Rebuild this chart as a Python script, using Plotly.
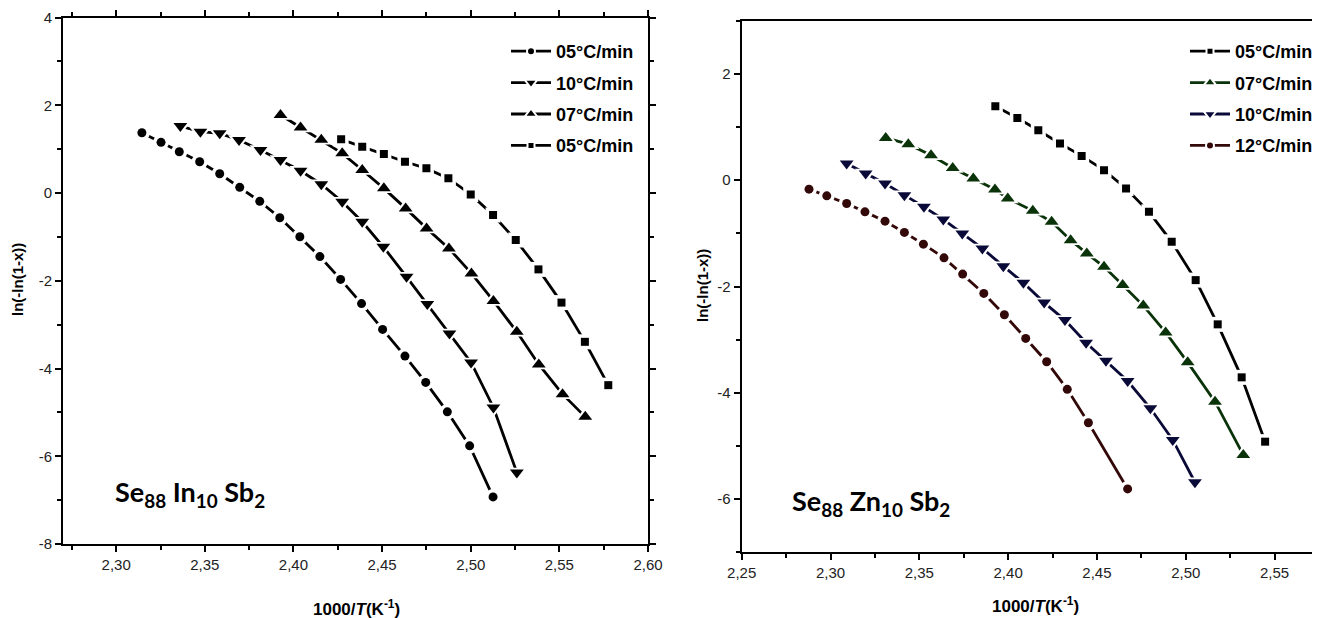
import plotly.graph_objects as go

# ---------------- Left panel: Se88 In10 Sb2 ----------------
L1_name = "05°C/min"
L1_x = [2.3145, 2.3253, 2.3356, 2.3471, 2.3584, 2.3697, 2.3810, 2.3923, 2.4036, 2.4149,
        2.4266, 2.4384, 2.4503, 2.4629, 2.4746, 2.4868, 2.4994, 2.5126]
L1_y = [1.375, 1.156, 0.942, 0.714, 0.440, 0.130, -0.189, -0.563, -0.997, -1.448,
        -1.968, -2.520, -3.108, -3.717, -4.317, -4.987, -5.763, -6.926]

L2_name = "10°C/min"
L2_x = [2.3362, 2.3475, 2.3584, 2.3693, 2.3814, 2.3927, 2.4040, 2.4157, 2.4275, 2.4388,
        2.4507, 2.4638, 2.4755, 2.4880, 2.5002, 2.5128, 2.5260]
L2_y = [1.528, 1.398, 1.361, 1.209, 0.980, 0.752, 0.509, 0.201, -0.198, -0.654,
        -1.225, -1.909, -2.531, -3.200, -3.861, -4.887, -6.369]

L3_name = "07°C/min"
L3_x = [2.3927, 2.4040, 2.4157, 2.4275, 2.4388, 2.4510, 2.4633, 2.4751, 2.4877, 2.5004,
        2.5128, 2.5260, 2.5384, 2.5518, 2.5646]
L3_y = [1.779, 1.494, 1.218, 0.905, 0.525, 0.107, -0.349, -0.805, -1.261, -1.831,
        -2.458, -3.163, -3.907, -4.584, -5.102]

L4_name = "05°C/min"
L4_x = [2.4269, 2.4388, 2.4510, 2.4629, 2.4750, 2.4874, 2.5000, 2.5126, 2.5254, 2.5382,
        2.5512, 2.5644, 2.5776]
L4_y = [1.225, 1.056, 0.889, 0.714, 0.563, 0.335, -0.030, -0.502, -1.072, -1.740,
        -2.497, -3.391, -4.379]

# ---------------- Right panel: Se88 Zn10 Sb2 ----------------
R1_name = "05°C/min"
R1_x = [2.3928, 2.4052, 2.4170, 2.4292, 2.4414, 2.4540, 2.4664, 2.4793, 2.4921, 2.5056,
        2.5180, 2.5315, 2.5447]
R1_y = [1.391, 1.171, 0.940, 0.690, 0.457, 0.188, -0.156, -0.596, -1.160, -1.880,
        -2.712, -3.709, -4.919]

R2_name = "07°C/min"
R2_x = [2.3311, 2.3438, 2.3566, 2.3688, 2.3804, 2.3926, 2.3998, 2.4139, 2.4245, 2.4352,
        2.4443, 2.4540, 2.4645, 2.4761, 2.4887, 2.5011, 2.5165, 2.5324]
R2_y = [0.795, 0.677, 0.470, 0.231, 0.032, -0.173, -0.344, -0.577, -0.784, -1.128,
        -1.378, -1.630, -1.974, -2.359, -2.863, -3.427, -4.167, -5.169]

R3_name = "10°C/min"
R3_x = [2.3091, 2.3198, 2.3307, 2.3416, 2.3526, 2.3635, 2.3742, 2.3855, 2.3973, 2.4086,
        2.4203, 2.4320, 2.4439, 2.4551, 2.4673, 2.4801, 2.4927, 2.5052]
R3_y = [0.314, 0.126, -0.062, -0.282, -0.502, -0.739, -1.002, -1.284, -1.617, -1.930,
        -2.303, -2.632, -3.058, -3.397, -3.778, -4.291, -4.887, -5.682]

R4_name = "12°C/min"
R4_x = [2.2879, 2.2979, 2.3091, 2.3194, 2.3307, 2.3416, 2.3523, 2.3639, 2.3744, 2.3863,
        2.3979, 2.4099, 2.4217, 2.4333, 2.4452, 2.4673]
R4_y = [-0.169, -0.295, -0.438, -0.596, -0.771, -0.983, -1.203, -1.461, -1.767, -2.130,
        -2.532, -2.976, -3.415, -3.934, -4.562, -5.808]

# tick labels (hyphen minus as in the reference)
L_ytickvals = [-8, -6, -4, -2, 0, 2, 4]
L_yticktext = ["-8", "-6", "-4", "-2", "0", "2", "4"]
R_ytickvals = [-6, -4, -2, 0, 2]
R_yticktext = ["-6", "-4", "-2", "0", "2"]

left_title = "Se<sub>88</sub> In<sub>10</sub> Sb<sub>2</sub>"
right_title = "Se<sub>88</sub> Zn<sub>10</sub> Sb<sub>2</sub>"
x_title = "<b>1000/<i>T</i>(K<sup>-1</sup>)</b>"
y_title = "<b>ln(-ln(1-x))</b>"

# the page body has an 8px margin, so the figure starts at (8, 8) in the window
OFF = 8
WIN_W, WIN_H = 1320, 618
W, H = WIN_W - OFF, WIN_H - OFF
ML, MR, MT, MB = 63 - OFF, 0, 17 - OFF, 65
PW, PH = W - ML - MR, H - MT - MB


def px_x(px):
    return (px - OFF - ML) / PW


def px_y(py):
    return (WIN_H - MB - py) / PH


fig = go.Figure()


def add_series(x, y, name, symbol, color, xa, ya, legend, msize=9):
    # line with white halo markers to create gaps around symbols
    fig.add_trace(go.Scatter(x=x, y=y, mode="lines+markers", xaxis=xa, yaxis=ya,
                             line=dict(color=color, width=2.8),
                             marker=dict(symbol=symbol, size=msize + 7, color="white"),
                             showlegend=False, hoverinfo="skip"))
    fig.add_trace(go.Scatter(x=x, y=y, mode="markers", xaxis=xa, yaxis=ya,
                             marker=dict(symbol=symbol, size=msize, color=color),
                             showlegend=False, name=name))
    # legend entry
    fig.add_trace(go.Scatter(x=[None], y=[None], mode="lines+markers", xaxis=xa, yaxis=ya,
                             line=dict(color=color, width=2.8),
                             marker=dict(symbol=symbol, size=msize - 1, color=color,
                                         line=dict(color="white", width=2)),
                             name=name, legend=legend, legendgroup=legend + name + symbol))


add_series(L1_x, L1_y, L1_name, "circle", "black", "x", "y", "legend", 9)
add_series(L2_x, L2_y, L2_name, "triangle-down", "black", "x", "y", "legend", 12)
add_series(L3_x, L3_y, L3_name, "triangle-up", "black", "x", "y", "legend", 12)
add_series(L4_x, L4_y, L4_name, "square", "black", "x", "y", "legend", 8)

add_series(R1_x, R1_y, R1_name, "square", "black", "x2", "y2", "legend2", 8)
add_series(R2_x, R2_y, R2_name, "triangle-up", "#0a330a", "x2", "y2", "legend2", 12)
add_series(R3_x, R3_y, R3_name, "triangle-down", "#0a0a38", "x2", "y2", "legend2", 12)
add_series(R4_x, R4_y, R4_name, "circle", "#330808", "x2", "y2", "legend2", 9)

tickfont = dict(family="Liberation Sans, Arial", size=15, color="#222")
common_axis = dict(showgrid=False, zeroline=False, showline=True, linecolor="black",
                   linewidth=2, ticks="outside", ticklen=6, tickwidth=1.5, tickcolor="black",
                   tickfont=tickfont)
minor_common = dict(ticks="outside", ticklen=4, tickcolor="black", tickwidth=1.5)

fig.update_layout(
    width=W, height=H, paper_bgcolor="white", plot_bgcolor="white",
    margin=dict(l=ML, r=MR, t=MT, b=MB, autoexpand=False),
    separators=",.",
    xaxis=dict(domain=[0, px_x(648)], range=[2.27, 2.60], dtick=0.05, tick0=2.30,
               tickformat=".2f", mirror="ticks", anchor="y",
               minor=dict(dtick=0.025, tick0=2.275, **minor_common),
               **common_axis),
    yaxis=dict(domain=[px_y(544), px_y(17.6)], range=[-8, 4],
               tickmode="array", tickvals=L_ytickvals, ticktext=L_yticktext,
               mirror="ticks", anchor="x",
               minor=dict(dtick=1, tick0=0, **minor_common),
               **common_axis),
    xaxis2=dict(domain=[px_x(741.7), 1.0], range=[2.25, 2.5756], dtick=0.05, tick0=2.25,
                tickformat=".2f", mirror=True, anchor="y2",
                minor=dict(dtick=0.025, tick0=2.25, **minor_common),
                **common_axis),
    yaxis2=dict(domain=[px_y(552.3), px_y(20.7)], range=[-7, 3],
                tickmode="array", tickvals=R_ytickvals, ticktext=R_yticktext,
                mirror=False, anchor="x2",
                minor=dict(dtick=1, tick0=0, **minor_common),
                **common_axis),
    legend=dict(x=px_x(506), y=px_y(33), xanchor="left", yanchor="top",
                font=dict(family="Liberation Sans, Arial", size=18, color="black", weight="bold"),
                bgcolor="rgba(0,0,0,0)", tracegroupgap=5, itemwidth=40),
    legend2=dict(x=px_x(1185), y=px_y(33), xanchor="left", yanchor="top",
                 font=dict(family="Liberation Sans, Arial", size=18, color="black", weight="bold"),
                 bgcolor="rgba(0,0,0,0)", tracegroupgap=5, itemwidth=40),
)

ann_font = dict(family="Liberation Sans, Arial", size=15, color="black")
xt_font = dict(family="Liberation Sans, Arial", size=17, color="black")
annotations = [
    dict(text=y_title, x=px_x(18), y=px_y(280), textangle=-90, font=ann_font),
    dict(text=y_title, x=px_x(702), y=px_y(286), textangle=-90, font=ann_font),
    dict(text=x_title, x=px_x(356), y=px_y(608), font=xt_font),
    dict(text=x_title, x=px_x(1035), y=px_y(605), font=xt_font),
    dict(text="<b>" + left_title + "</b>", x=px_x(190), y=px_y(493),
         font=dict(family="Lato, Open Sans", size=27, color="black")),
    dict(text="<b>" + right_title + "</b>", x=px_x(871), y=px_y(502),
         font=dict(family="Lato, Open Sans", size=27, color="black")),
]
for a in annotations:
    a.update(xref="paper", yref="paper", showarrow=False, xanchor="center", yanchor="middle")
fig.update_layout(annotations=annotations)

fig.write_html("out.html")
